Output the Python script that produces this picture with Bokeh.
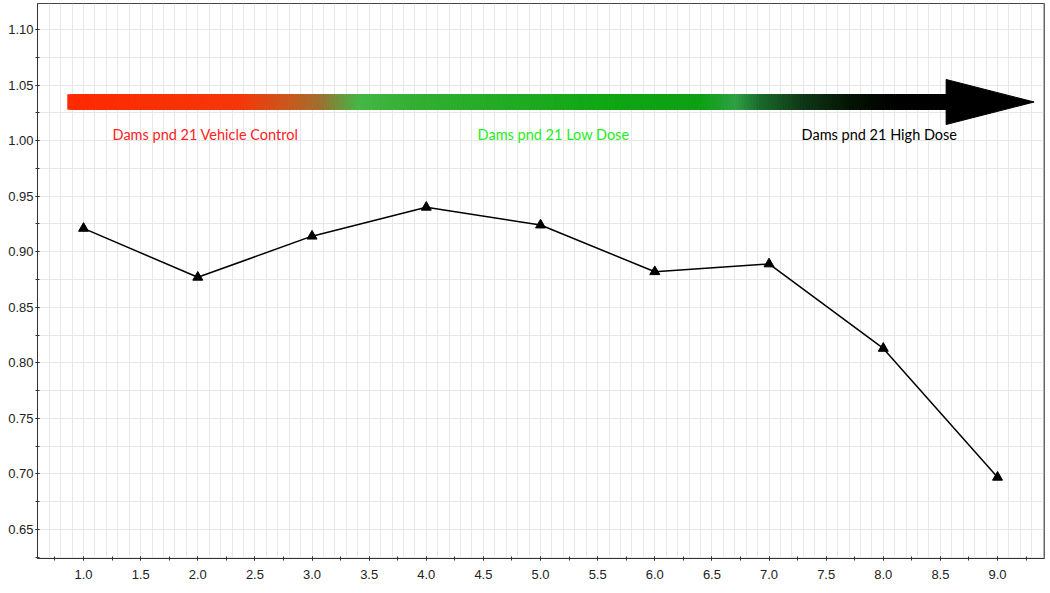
from bokeh.plotting import figure
from bokeh.models import Range1d, SingleIntervalTicker, Grid, Span, NumeralTickFormatter, Label
from bokeh.embed import file_html
from bokeh.resources import INLINE
import numpy as np

# ---- data ----
dose_index = [1, 2, 3, 4, 5, 6, 7, 8, 9]
ratio_values = [0.921, 0.877, 0.914, 0.940, 0.924, 0.882, 0.889, 0.813, 0.697]

group_labels = ["Dams pnd 21 Vehicle Control", "Dams pnd 21 Low Dose", "Dams pnd 21 High Dose"]
group_label_x = [1.254, 4.449, 7.285]
group_label_y = [1.0055, 1.0055, 1.0055]
group_label_colors = ["#ff2222", "#22ee22", "#000000"]

# ---- arrow annotation geometry / style ----
arrow_x0, arrow_shaft_end, arrow_tip = 0.86, 8.56, 9.32
arrow_shaft_bottom, arrow_shaft_top = 1.028, 1.0415
arrow_head_bottom, arrow_head_top = 1.0145, 1.055
grad_pos = [0.86, 2.37, 2.81, 3.07, 3.29, 3.42, 3.86, 5.53, 6.40, 6.71, 6.93, 7.28, 7.71, 8.15, 8.56]
grad_col = ["#ff2a00", "#f5380a", "#c85a20", "#a07030", "#60a040", "#45b845", "#35b035",
            "#10a815", "#0ea014", "#30a045", "#1a6a2a", "#103a18", "#051505", "#000000", "#000000"]

X_MIN, X_MAX = 0.597, 9.411
Y_MIN, Y_MAX = 0.6239, 1.1234


def hex2rgb(h):
    return np.array([int(h[i:i + 2], 16) for i in (1, 3, 5)], dtype=float)


p = figure(width=1050, height=593,
           x_range=Range1d(X_MIN, X_MAX), y_range=Range1d(Y_MIN, Y_MAX),
           output_backend="svg", toolbar_location=None,
           min_border_left=37, min_border_right=6, min_border_top=3, min_border_bottom=35)

p.xgrid.visible = False
p.ygrid.visible = False
p.add_layout(Grid(dimension=0, ticker=SingleIntervalTicker(interval=0.1),
                  grid_line_color="#e8e8e8", grid_line_width=1))
p.add_layout(Grid(dimension=1, ticker=SingleIntervalTicker(interval=0.025),
                  grid_line_color="#e8e8e8", grid_line_width=1))

p.outline_line_color = "#444444"
p.outline_line_width = 1

for ax, interval, fmt in ((p.xaxis, 0.5, "0.0"), (p.yaxis, 0.05, "0.00")):
    ax.ticker = SingleIntervalTicker(interval=interval, num_minor_ticks=2)
    ax.formatter = NumeralTickFormatter(format=fmt)
    ax.axis_line_color = "#333333"
    ax.major_tick_line_color = "#333333"
    ax.minor_tick_line_color = "#333333"
    ax.major_tick_in = 2
    ax.major_tick_out = 2
    ax.minor_tick_in = 2
    ax.minor_tick_out = 2
    ax.major_label_text_font = "Liberation Sans"
    ax.major_label_text_font_size = "13px"
    ax.major_label_text_color = "#222222"
p.yaxis.major_label_standoff = 2
p.xaxis.major_label_standoff = 9

p.add_layout(Span(location=X_MAX, dimension="height", line_color="#808080", line_width=2))

# gradient arrow shaft (overlapping slices so no seams show)
n = 300
edges = np.linspace(arrow_x0, arrow_shaft_end, n + 1)
step = edges[1] - edges[0]
mids = (edges[:-1] + edges[1:]) / 2
rgb_stops = np.array([hex2rgb(c) for c in grad_col])
cols = []
for m in mids:
    r = np.interp(m, grad_pos, rgb_stops[:, 0])
    g = np.interp(m, grad_pos, rgb_stops[:, 1])
    b = np.interp(m, grad_pos, rgb_stops[:, 2])
    cols.append("#%02x%02x%02x" % (int(r), int(g), int(b)))
rights = np.minimum(edges[1:] + 2 * step, arrow_shaft_end)
p.quad(left=edges[:-1], right=rights, bottom=arrow_shaft_bottom, top=arrow_shaft_top,
       fill_color=cols, line_color=cols, line_width=0.5)
p.patch([arrow_shaft_end - 0.01, arrow_tip, arrow_shaft_end - 0.01],
        [arrow_head_top, (arrow_shaft_bottom + arrow_shaft_top) / 2, arrow_head_bottom],
        fill_color="#000000", line_color="#000000")

for t, x, y, c in zip(group_labels, group_label_x, group_label_y, group_label_colors):
    p.add_layout(Label(x=x, y=y, text=t, text_font="Lato", text_font_size="14.5px",
                       text_color=c, text_baseline="middle", text_align="left"))

p.line(dose_index, ratio_values, line_color="#000000", line_width=1.5)
p.scatter(dose_index, ratio_values, marker="triangle", size=10, fill_color="#000000",
          line_color="#000000")

open("out.html", "w").write(file_html(p, INLINE))
